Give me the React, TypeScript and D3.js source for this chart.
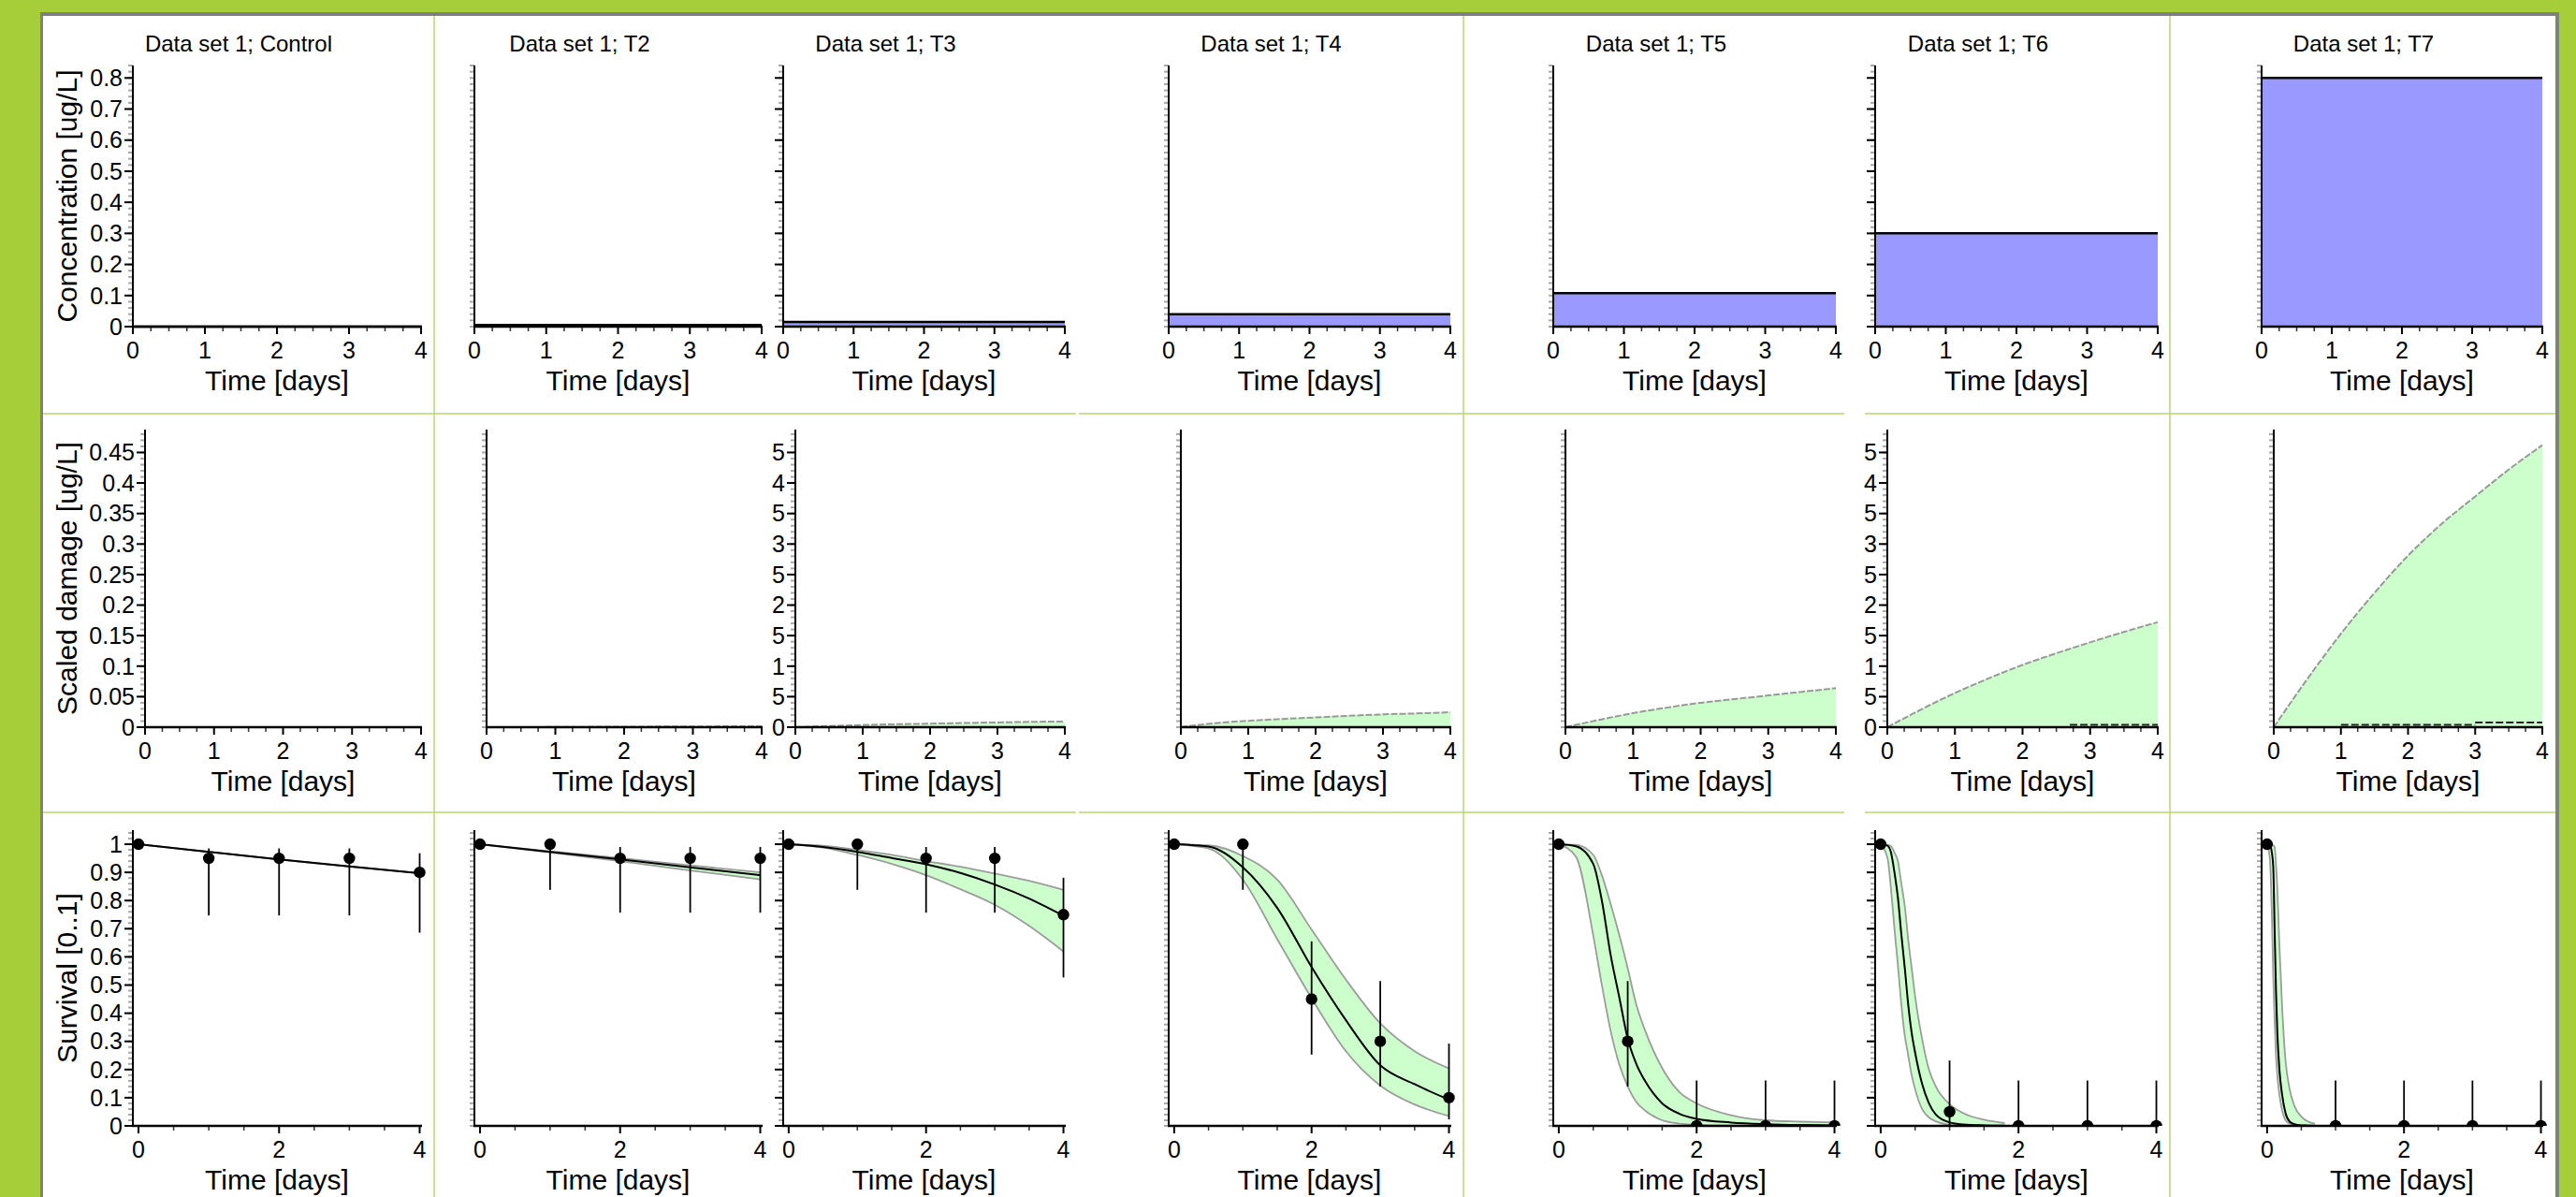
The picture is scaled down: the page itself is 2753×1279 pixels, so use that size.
import React from 'react';
import * as d3 from 'd3';

// ---------------- data ----------------
const panelNames = ['Control', 'T2', 'T3', 'T4', 'T5', 'T6', 'T7'];

// row 1: exposure concentration [ug/L] (constant over 0..4 days)
const concentration = [0, 0.0055, 0.015, 0.04, 0.108, 0.3, 0.8];
const concTicks = [0, 0.1, 0.2, 0.3, 0.4, 0.5, 0.6, 0.7, 0.8];

// row 2: scaled damage [ug/L]
const damageTimes = [0, 0.5, 1, 1.5, 2, 2.5, 3, 3.5, 4];
const damageControl = [0, 0, 0, 0, 0, 0, 0, 0, 0];
const damageT2 = [0, 0, 0.0003, 0.0006, 0.0008, 0.001, 0.0012, 0.0014, 0.0016];
const damageT3 = [0, 0.002, 0.0035, 0.0048, 0.0058, 0.0068, 0.0078, 0.0087, 0.0094];
const damageT4 = [0, 0.0065, 0.0105, 0.0135, 0.016, 0.0187, 0.021, 0.0225, 0.0245];
const damageT5 = [0, 0.012, 0.023, 0.032, 0.04, 0.046, 0.052, 0.058, 0.064];
const damageT6 = [0, 0.029, 0.056, 0.08, 0.102, 0.121, 0.139, 0.156, 0.172];
const damageT7 = [0, 0.079, 0.153, 0.22, 0.281, 0.333, 0.378, 0.422, 0.462];
const damageTicks = [0, 0.05, 0.1, 0.15, 0.2, 0.25, 0.3, 0.35, 0.4, 0.45];
const damageFloorSegments = [
  { panel: 5, t0: 2.7, t1: 4, v: 0.004 },
  { panel: 6, t0: 1, t1: 3, v: 0.004 },
  { panel: 6, t0: 3, t1: 4, v: 0.0075 },
];

// row 3: survival observations
const obsTimes = [0, 1, 2, 3, 4];
const survControl = [1, 0.95, 0.95, 0.95, 0.9];
const survT2 = [1, 1, 0.95, 0.95, 0.95];
const survT3 = [1, 1, 0.95, 0.95, 0.75];
const survT4 = [1, 1, 0.45, 0.3, 0.1];
const survT5 = [1, 0.3, 0, 0, 0];
const survT6 = [1, 0.05, 0, 0, 0];
const survT7 = [1, 0, 0, 0, 0];

const ciLoControl = [null, 0.747, 0.747, 0.747, 0.686];
const ciHiControl = [null, 0.985, 0.985, 0.985, 0.968];
const ciLoT2 = [null, 0.838, 0.757, 0.757, 0.757];
const ciHiT2 = [null, 1, 0.99, 0.99, 0.99];
const ciLoT3 = [null, 0.838, 0.757, 0.757, 0.527];
const ciHiT3 = [null, 1, 0.99, 0.99, 0.881];
const ciLoT4 = [null, 0.838, 0.253, 0.14, 0.023];
const ciHiT4 = [null, 1, 0.655, 0.514, 0.292];
const ciLoT5 = [null, 0.14, 0, 0, 0];
const ciHiT5 = [null, 0.514, 0.161, 0.161, 0.161];
const ciLoT6 = [null, 0.002, 0, 0, 0];
const ciHiT6 = [null, 0.232, 0.161, 0.161, 0.161];
const ciLoT7 = [null, 0, 0, 0, 0];
const ciHiT7 = [null, 0.161, 0.161, 0.161, 0.161];

// row 3: model fits (median with band)
const tControl = [0, 1, 2, 3, 4];
const medControl = [1, 0.973, 0.946, 0.921, 0.897];
const hiControl = [1, 0.973, 0.946, 0.921, 0.897];
const loControl = [1, 0.973, 0.946, 0.921, 0.897];

const tT2 = [0, 1, 2, 3, 4];
const medT2 = [1, 0.973, 0.946, 0.918, 0.89];
const hiT2 = [1, 0.975, 0.951, 0.925, 0.9];
const loT2 = [1, 0.971, 0.94, 0.907, 0.875];

const tT3 = [0, 0.5, 1, 1.5, 2, 2.5, 3, 3.5, 4];
const medT3 = [1, 0.99, 0.973, 0.951, 0.929, 0.898, 0.857, 0.807, 0.746];
const hiT3 = [1, 0.995, 0.98, 0.962, 0.94, 0.92, 0.896, 0.87, 0.838];
const loT3 = [1, 0.988, 0.962, 0.93, 0.89, 0.84, 0.785, 0.71, 0.619];

const tT4 = [0, 0.5, 1, 1.5, 2, 2.5, 3, 3.5, 4];
const medT4 = [1, 0.992, 0.918, 0.774, 0.564, 0.375, 0.215, 0.148, 0.093];
const hiT4 = [1, 0.996, 0.958, 0.874, 0.697, 0.519, 0.364, 0.265, 0.204];
const loT4 = [1, 0.985, 0.874, 0.663, 0.453, 0.265, 0.143, 0.076, 0.035];

const tT5 = [0, 0.25, 0.5, 0.625, 0.75, 0.875, 1, 1.125, 1.25, 1.5, 1.75, 2, 2.5, 3, 3.5, 4];
const medT5 = [1, 0.993, 0.93, 0.8, 0.61, 0.46, 0.31, 0.22, 0.16, 0.08, 0.043, 0.025, 0.012, 0.006, 0.003, 0.002];
const hiT5 = [1, 0.998, 0.962, 0.89, 0.79, 0.68, 0.56, 0.43, 0.34, 0.205, 0.12, 0.08, 0.038, 0.02, 0.015, 0.012];
const loT5 = [1, 0.955, 0.676, 0.5, 0.34, 0.22, 0.14, 0.085, 0.055, 0.02, 0.008, 0.004, 0.001, 0, 0, 0];

const tT6 = [0, 0.1, 0.15, 0.2, 0.25, 0.3, 0.35, 0.4, 0.45, 0.5, 0.6, 0.7, 0.8, 1, 1.2, 1.5, 1.8];
const medT6 = [1, 0.995, 0.97, 0.9, 0.81, 0.68, 0.56, 0.43, 0.33, 0.26, 0.15, 0.08, 0.04, 0.012, 0.005, 0.002, 0.001];
const hiT6 = [1, 0.998, 0.993, 0.97, 0.94, 0.86, 0.78, 0.66, 0.56, 0.46, 0.31, 0.2, 0.14, 0.077, 0.045, 0.022, 0.01];
const loT6 = [1, 0.95, 0.84, 0.7, 0.57, 0.43, 0.32, 0.25, 0.18, 0.13, 0.06, 0.03, 0.016, 0.004, 0.001, 0, 0];

const tT7 = [0, 0.04, 0.07, 0.09, 0.11, 0.13, 0.15, 0.18, 0.22, 0.27, 0.33, 0.4, 0.5, 0.6, 0.7];
const medT7 = [1, 0.997, 0.97, 0.92, 0.7, 0.48, 0.33, 0.2, 0.11, 0.045, 0.015, 0.006, 0.002, 0.001, 0];
const hiT7 = [1, 1, 0.999, 0.996, 0.99, 0.93, 0.84, 0.64, 0.42, 0.23, 0.13, 0.07, 0.033, 0.015, 0.008];
const loT7 = [1, 0.95, 0.75, 0.53, 0.38, 0.25, 0.18, 0.11, 0.055, 0.02, 0.008, 0.003, 0.001, 0, 0];

const survTicks = [0, 0.1, 0.2, 0.3, 0.4, 0.5, 0.6, 0.7, 0.8, 0.9, 1];
const dayTicks14 = [0, 1, 2, 3, 4];
const dayTicks24 = [0, 2, 4];

const damageSeries = [damageControl, damageT2, damageT3, damageT4, damageT5, damageT6, damageT7];
const survSeries = [survControl, survT2, survT3, survT4, survT5, survT6, survT7];
const ciLoSeries = [ciLoControl, ciLoT2, ciLoT3, ciLoT4, ciLoT5, ciLoT6, ciLoT7];
const ciHiSeries = [ciHiControl, ciHiT2, ciHiT3, ciHiT4, ciHiT5, ciHiT6, ciHiT7];
const modelT = [tControl, tT2, tT3, tT4, tT5, tT6, tT7];
const modelMed = [medControl, medT2, medT3, medT4, medT5, medT6, medT7];
const modelHi = [hiControl, hiT2, hiT3, hiT4, hiT5, hiT6, hiT7];
const modelLo = [loControl, loT2, loT3, loT4, loT5, loT6, loT7];

// ---------------- layout ----------------
const W = 2753;
const H = 1279;
const FONT = '"Liberation Sans", Arial, Helvetica, sans-serif';
const LEFT = [142, 507, 837, 1249, 1660, 2004, 2417];
const RIGHT = [450, 814, 1138, 1550, 1962, 2306, 2717];
const ROW1 = { top: 70, base: 349 };
const ROW2 = { top: 459, base: 777 };
const ROW3 = { top: 887, base: 1203 };
const yModes = ['full', 'none', 'ticks', 'none', 'none', 'ticks', 'none'];

const fmt = (v: number) => String(+v.toFixed(2));

function YAxis({ x, y, majors, minorStep, mode }: any) {
  const top = y.domain()[1];
  const minors = d3.range(0, top + 1e-9, minorStep);
  return (
    <g>
      {minors.map((v: number, i: number) => (
        <line key={'m' + i} x1={x - 5} x2={x} y1={y(v)} y2={y(v)} stroke="#a8a8a8" strokeWidth={2} />
      ))}
      {mode !== 'none' &&
        majors.map((v: number, i: number) => (
          <line key={'M' + i} x1={x - 9} x2={x} y1={y(v)} y2={y(v)} stroke="#000" strokeWidth={2} />
        ))}
      {(mode === 'full' || mode === 'last') &&
        majors.map((v: number, i: number) => (
          <text key={'t' + i} x={x - 11} y={y(v)} dy="0.35em" textAnchor="end" fontSize={25}>
            {mode === 'full' ? fmt(v) : fmt(v).slice(-1)}
          </text>
        ))}
      <line x1={x} x2={x} y1={y(0) + 1} y2={y(top)} stroke="#000" strokeWidth={2} />
    </g>
  );
}

function XAxis({ x, base, majors, minorStep }: any) {
  const [d0, d1] = x.domain();
  const [r0, r1] = x.range();
  const minors = d3
    .range(Math.ceil(d0 / minorStep) * minorStep, d1 + 1e-9, minorStep)
    .filter((v: number) => !majors.some((m: number) => Math.abs(m - v) < 1e-9));
  return (
    <g>
      {minors.map((v: number, i: number) => (
        <line key={'m' + i} x1={x(v)} x2={x(v)} y1={base} y2={base + 5} stroke="#333" strokeWidth={1.5} />
      ))}
      {majors.map((v: number, i: number) => (
        <line key={'M' + i} x1={x(v)} x2={x(v)} y1={base} y2={base + 8} stroke="#000" strokeWidth={2} />
      ))}
      {majors.map((v: number, i: number) => (
        <text key={'t' + i} x={x(v)} y={base + 34} textAnchor="middle" fontSize={25}>
          {fmt(v)}
        </text>
      ))}
      <line x1={r0 - 1} x2={r1 + 1} y1={base} y2={base} stroke="#000" strokeWidth={2.5} />
      <text x={(r0 + r1) / 2} y={base + 68} textAnchor="middle" fontSize={30}>
        Time [days]
      </text>
    </g>
  );
}

function ConcPanel({ i }: { i: number }) {
  const x = d3.scaleLinear().domain([0, 4]).range([LEFT[i], RIGHT[i]]);
  const y = d3.scaleLinear().domain([0, 0.84]).range([ROW1.base, ROW1.top]);
  const pts: [number, number][] = [
    [0, concentration[i]],
    [4, concentration[i]],
  ];
  const area = d3.area<[number, number]>().x((d) => x(d[0])).y0(y(0)).y1((d) => y(d[1]));
  const line = d3.line<[number, number]>().x((d) => x(d[0])).y((d) => y(d[1]));
  return (
    <g>
      <text x={(LEFT[i] + RIGHT[i]) / 2 - 41} y={55} textAnchor="middle" fontSize={24}>
        {'Data set 1; ' + panelNames[i]}
      </text>
      <path d={area(pts) || ''} fill="#9999ff" />
      <path d={line(pts) || ''} fill="none" stroke="#000" strokeWidth={2.5} />
      <YAxis x={LEFT[i]} y={y} majors={concTicks} minorStep={0.02} mode={yModes[i]} />
      <XAxis x={x} base={ROW1.base} majors={dayTicks14} minorStep={0.25} />
    </g>
  );
}

function DamagePanel({ i }: { i: number }) {
  const x = d3.scaleLinear().domain([0, 4]).range([LEFT[i] + 13, RIGHT[i]]);
  const y = d3.scaleLinear().domain([0, 0.4875]).range([ROW2.base, ROW2.top]);
  const data = damageTimes.map((t, k) => [t, damageSeries[i][k]] as [number, number]);
  const area = d3
    .area<[number, number]>()
    .x((d) => x(d[0]))
    .y0(y(0))
    .y1((d) => y(d[1]))
    .curve(d3.curveMonotoneX);
  const line = d3
    .line<[number, number]>()
    .x((d) => x(d[0]))
    .y((d) => y(d[1]))
    .curve(d3.curveMonotoneX);
  const mode = yModes[i] === 'ticks' ? 'last' : yModes[i];
  return (
    <g>
      <path d={area(data) || ''} fill="#ccffcc" />
      <path d={line(data) || ''} fill="none" stroke="#999" strokeWidth={2} strokeDasharray="7,2" />
      {damageFloorSegments
        .filter((s) => s.panel === i)
        .map((s, k) => (
          <line
            key={k}
            x1={x(s.t0)}
            x2={x(s.t1)}
            y1={y(s.v)}
            y2={y(s.v)}
            stroke="#222"
            strokeWidth={2}
            strokeDasharray="8,3"
          />
        ))}
      <YAxis x={LEFT[i] + 13} y={y} majors={damageTicks} minorStep={0.01} mode={mode} />
      <XAxis x={x} base={ROW2.base} majors={dayTicks14} minorStep={0.25} />
    </g>
  );
}

function SurvPanel({ i }: { i: number }) {
  const x = d3.scaleLinear().domain([-0.08, 4.02]).range([LEFT[i], RIGHT[i]]);
  const y = d3.scaleLinear().domain([0, 1.05]).range([ROW3.base, ROW3.top]);
  const ts = modelT[i];
  const band = ts.map((t, k) => ({ t, lo: modelLo[i][k], hi: modelHi[i][k], med: modelMed[i][k] }));
  const area = d3
    .area<any>()
    .x((d) => x(d.t))
    .y0((d) => y(d.lo))
    .y1((d) => y(d.hi))
    .curve(d3.curveMonotoneX);
  const mk = (key: string) =>
    d3
      .line<any>()
      .x((d) => x(d.t))
      .y((d) => y(d[key]))
      .curve(d3.curveMonotoneX);
  const clipId = 'clip-surv-' + i;
  return (
    <g>
      <defs>
        <clipPath id={clipId}>
          <rect x={LEFT[i] - 10} y={ROW3.top - 20} width={RIGHT[i] - LEFT[i] + 20} height={ROW3.base - ROW3.top + 20} />
        </clipPath>
      </defs>
      <g clipPath={`url(#${clipId})`}>
        <path d={area(band) || ''} fill="#ccffcc" />
        <path d={mk('hi')(band) || ''} fill="none" stroke="#9c9c9c" strokeWidth={1.8} />
        <path d={mk('lo')(band) || ''} fill="none" stroke="#9c9c9c" strokeWidth={1.8} />
        <path d={mk('med')(band) || ''} fill="none" stroke="#000" strokeWidth={2} />
        {obsTimes.map((t, k) => {
          const lo = ciLoSeries[i][k];
          const hi = ciHiSeries[i][k];
          if (lo === null || hi === null) return null;
          return <line key={'e' + k} x1={x(t)} x2={x(t)} y1={y(lo)} y2={y(hi)} stroke="#000" strokeWidth={1.8} />;
        })}
        {obsTimes.map((t, k) => (
          <circle key={'p' + k} cx={x(t)} cy={y(survSeries[i][k])} r={6.2} fill="#000" />
        ))}
      </g>
      <YAxis x={LEFT[i]} y={y} majors={survTicks} minorStep={0.02} mode={yModes[i]} />
      <XAxis x={x} base={ROW3.base} majors={dayTicks24} minorStep={0.5} />
    </g>
  );
}

export default function App() {
  const sepColor = '#b7d96c';
  const vSeps = [464, 1564, 2319];
  const hSeps = [442, 868];
  const hGaps = [
    [46, 1150],
    [1153, 1971],
    [1993, 2731],
  ];
  return (
    <svg
      width={W}
      height={H}
      viewBox={`0 0 ${W} ${H}`}
      style={{ position: 'absolute', left: 0, top: 0 }}
      fontFamily={FONT}
    >
      <rect x={0} y={0} width={W} height={H} fill="#a6ce39" />
      <rect x={43} y={13} width={2692} height={H} fill="#808080" />
      <rect x={46} y={17} width={2685} height={H} fill="#ffffff" />
      {vSeps.map((vx) => (
        <line key={'v' + vx} x1={vx} x2={vx} y1={17} y2={H} stroke={sepColor} strokeWidth={1.5} />
      ))}
      {hSeps.map((hy) =>
        hGaps.map(([a, b]) => (
          <line key={'h' + hy + '-' + a} x1={a} x2={b} y1={hy} y2={hy} stroke={sepColor} strokeWidth={1.5} />
        ))
      )}
      <text transform={`translate(82, ${(ROW1.top + ROW1.base) / 2}) rotate(-90)`} textAnchor="middle" fontSize={30}>
        Concentration [ug/L]
      </text>
      <text transform={`translate(82, ${(ROW2.top + ROW2.base) / 2}) rotate(-90)`} textAnchor="middle" fontSize={30}>
        Scaled damage [ug/L]
      </text>
      <text transform={`translate(82, ${(ROW3.top + ROW3.base) / 2}) rotate(-90)`} textAnchor="middle" fontSize={30}>
        Survival [0..1]
      </text>
      {panelNames.map((_, i) => (
        <g key={i}>
          <ConcPanel i={i} />
          <DamagePanel i={i} />
          <SurvPanel i={i} />
        </g>
      ))}
    </svg>
  );
}
